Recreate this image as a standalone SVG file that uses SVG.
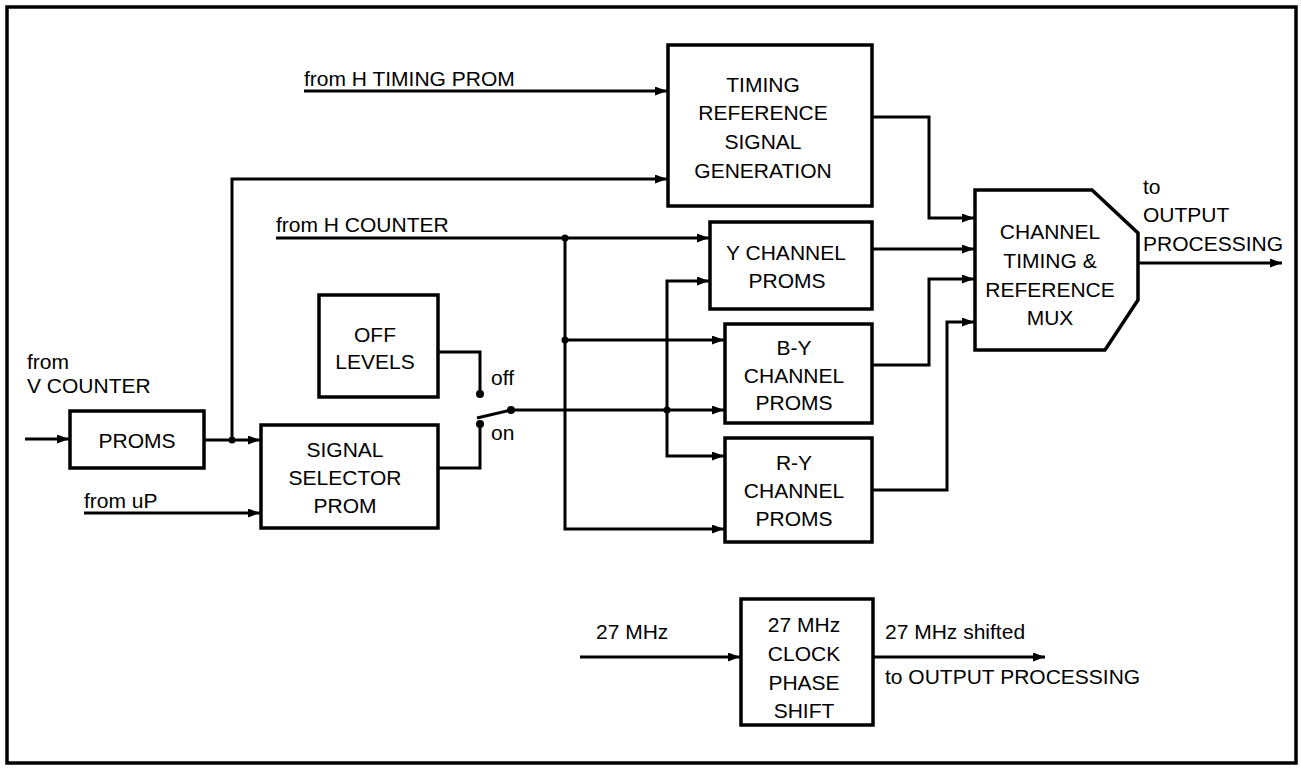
<svg xmlns="http://www.w3.org/2000/svg" width="1301" height="770" viewBox="0 0 1301 770">
<style>
  .box { fill: #fff; stroke: #000; stroke-width: 3.5; }
  .wire { fill: none; stroke: #000; stroke-width: 3; }
  .arr { marker-end: url(#ah); }
  .dot { fill: #000; }
  text { font-family: "Liberation Sans", Arial, sans-serif; font-size: 21px; fill: #000; }
  .c { text-anchor: middle; }
</style>
<defs>
  <marker id="ah" markerUnits="userSpaceOnUse" markerWidth="13" markerHeight="10" refX="12" refY="4.5" orient="auto">
    <path d="M0,0 L12,4.5 L0,9 z" fill="#000"/>
  </marker>
</defs>
<rect x="0" y="0" width="1301" height="770" fill="#fff"/>
<rect x="7" y="7" width="1289" height="756" fill="none" stroke="#000" stroke-width="3.5"/>

<g id="connectors">
  <path class="wire arr" d="M25,439 H69"/>
  <path class="wire arr" d="M204,440 H260"/>
  <path class="wire arr" d="M232,440 V179 H667"/>
  <path class="wire arr" d="M304,91 H667"/>
  <path class="wire arr" d="M84,513 H260"/>
  <path class="wire arr" d="M276,238 H709"/>
  <path class="wire arr" d="M565,238 V529 H724"/>
  <path class="wire arr" d="M565,340 H724"/>
  <path class="wire" d="M438,352 H480 V394"/>
  <path class="wire" d="M438,468 H480 V424"/>
  <path class="wire" d="M477,418 L511,410"/>
  <path class="wire arr" d="M511,410 H724"/>
  <path class="wire arr" d="M667,410 V281 H709"/>
  <path class="wire arr" d="M667,410 V456 H724"/>
  <path class="wire arr" d="M872,117 H929 V218 H974"/>
  <path class="wire arr" d="M872,249 H974"/>
  <path class="wire arr" d="M872,365 H929 V279 H974"/>
  <path class="wire arr" d="M872,490 H947 V322 H974"/>
  <path class="wire arr" d="M1138,263 H1282"/>
  <path class="wire arr" d="M580,657 H740"/>
  <path class="wire arr" d="M873,657 H1045"/>
  <circle class="dot" cx="232" cy="440" r="3.5"/>
  <circle class="dot" cx="565" cy="238" r="3.5"/>
  <circle class="dot" cx="565" cy="340" r="3.5"/>
  <circle class="dot" cx="480" cy="394" r="4"/>
  <circle class="dot" cx="480" cy="424" r="4"/>
  <circle class="dot" cx="511" cy="410" r="4"/>
  <circle class="dot" cx="667" cy="410" r="3.5"/>
</g>

<g id="labels">
  <text x="304" y="86">from H TIMING PROM</text>
  <text x="276" y="232">from H COUNTER</text>
  <text x="27" y="369">from</text>
  <text x="27" y="393">V COUNTER</text>
  <text x="84" y="508">from uP</text>
  <text x="491" y="385">off</text>
  <text x="491" y="440">on</text>
  <text x="1143" y="194">to</text>
  <text x="1143" y="222">OUTPUT</text>
  <text x="1143" y="251">PROCESSING</text>
  <text x="596" y="639">27 MHz</text>
  <text x="885" y="639">27 MHz shifted</text>
  <text x="885" y="684">to OUTPUT PROCESSING</text>
</g>

<g id="proms">
  <rect class="box" x="70" y="411" width="134" height="57"/>
  <text class="c" x="137" y="448">PROMS</text>
</g>

<g id="timing-ref">
  <rect class="box" x="668" y="45" width="204" height="161"/>
  <text class="c" x="763" y="92">TIMING</text>
  <text class="c" x="763" y="120">REFERENCE</text>
  <text class="c" x="763" y="149">SIGNAL</text>
  <text class="c" x="763" y="178">GENERATION</text>
</g>

<g id="off-levels">
  <rect class="box" x="319" y="295" width="119" height="102"/>
  <text class="c" x="375" y="342">OFF</text>
  <text class="c" x="375" y="369">LEVELS</text>
</g>

<g id="signal-selector">
  <rect class="box" x="261" y="425" width="177" height="103"/>
  <text class="c" x="345" y="457">SIGNAL</text>
  <text class="c" x="345" y="485">SELECTOR</text>
  <text class="c" x="345" y="513">PROM</text>
</g>

<g id="y-channel">
  <rect class="box" x="710" y="222" width="162" height="87"/>
  <text class="c" x="786" y="260">Y CHANNEL</text>
  <text class="c" x="787" y="288">PROMS</text>
</g>

<g id="by-channel">
  <rect class="box" x="725" y="324" width="147" height="99"/>
  <text class="c" x="794" y="355">B-Y</text>
  <text class="c" x="794" y="383">CHANNEL</text>
  <text class="c" x="794" y="410">PROMS</text>
</g>

<g id="ry-channel">
  <rect class="box" x="725" y="438" width="147" height="104"/>
  <text class="c" x="794" y="470">R-Y</text>
  <text class="c" x="794" y="498">CHANNEL</text>
  <text class="c" x="794" y="526">PROMS</text>
</g>

<g id="mux">
  <path class="box" d="M975,190 H1092 L1138,233 V300 L1105,350 H975 Z"/>
  <text class="c" x="1050" y="239">CHANNEL</text>
  <text class="c" x="1050" y="268">TIMING &amp;</text>
  <text class="c" x="1050" y="297">REFERENCE</text>
  <text class="c" x="1050" y="325">MUX</text>
</g>

<g id="clock-shift">
  <rect class="box" x="741" y="599" width="132" height="126"/>
  <text class="c" x="804" y="632">27 MHz</text>
  <text class="c" x="804" y="661">CLOCK</text>
  <text class="c" x="804" y="690">PHASE</text>
  <text class="c" x="804" y="718">SHIFT</text>
</g>
</svg>
